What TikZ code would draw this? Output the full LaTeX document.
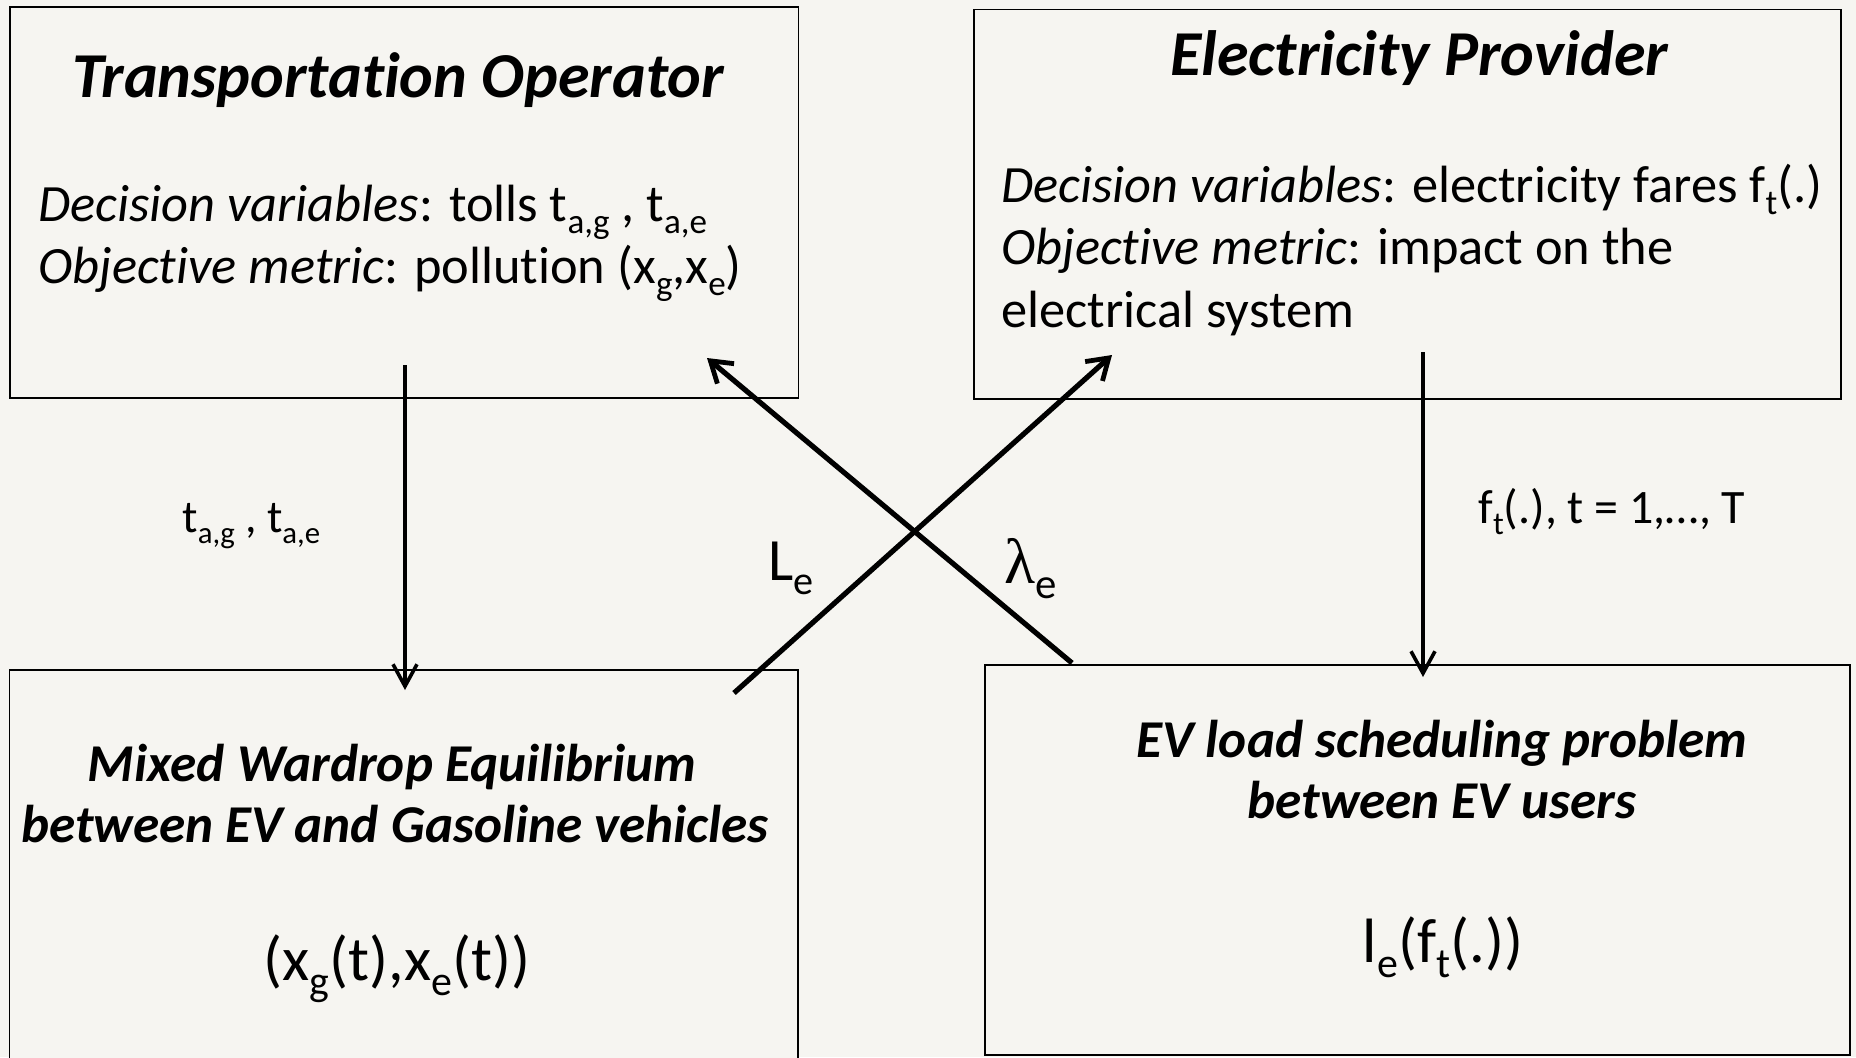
\documentclass[tikz,border=0pt]{standalone}
\usepackage{fontspec}
\setmainfont{Carlito}[RawFeature={-liga;-clig;-dlig}]
\newfontfamily\grk{Liberation Serif}
\usetikzlibrary{arrows.meta}
\definecolor{bg}{HTML}{F6F5F1}
\newcommand\sbs[1]{\raisebox{-0.24em}{\scalebox{0.67}{#1}}}
\begin{document}
\begin{tikzpicture}[x=0.5pt,y=-0.5pt,
  box/.style={draw=black, line width=0.75pt, fill=bg, inner sep=0pt},
  vtip/.style={-{Straight Barb[length=11pt,width=12pt,line width=1.8pt]}},
  varr/.style={line width=1.7pt, vtip},
  darr/.style={line width=2.6pt, -{Straight Barb[length=10pt,width=13pt,line width=2.4pt]}},
  ttl/.style={anchor=base, inner sep=0pt, font=\fontsize{32}{38}\selectfont\bfseries\itshape},
  btl/.style={anchor=base, inner sep=0pt, font=\fontsize{26.6}{32}\selectfont\bfseries\itshape},
  body/.style={anchor=base west, inner sep=0pt, font=\fontsize{26.2}{31}\selectfont},
  lbl/.style={anchor=base west, inner sep=0pt, font=\fontsize{23}{28}\selectfont},
  frm/.style={anchor=base, inner sep=0pt, font=\fontsize{31.3}{37}\selectfont},
  big/.style={anchor=base west, inner sep=0pt, font=\fontsize{30}{36}\selectfont}]

\fill[bg] (0,0) rectangle (1856,1057);
\useasboundingbox (0,0) rectangle (1856,1057);

% boxes
\node[box, minimum width=394.25pt, minimum height=195.5pt] (to) at (404,202.5) {};
\node[box, minimum width=433.5pt, minimum height=194.75pt] (ep) at (1407.5,204.25) {};
\node[box, minimum width=394.25pt, minimum height=196pt] (mw) at (403.75,866) {};
\node[box, minimum width=432.5pt, minimum height=195pt] (ev) at (1417.5,860) {};

% top-left text
\node[ttl] (tot) at (398,97) {Transportation Operator};
\node[body] (tod) at (38,221) {\textit{Decision variables}: tolls t\sbs{a,g} , t\sbs{a,e}};
\node[body] (too) at (38,283) {\textit{Objective metric}: pollution (x\sbs{g},x\sbs{e})};

% top-right text
\node[ttl] (ept) at (1419,75) {Electricity Provider};
\node[body] (epd) at (1001,202) {\textit{Decision variables}: electricity fares f\sbs{t}(.)};
\node[body] (epo) at (1001,264) {\textit{Objective metric}: impact on the};
\node[body] (epe) at (1001,327) {electrical system};

% bottom-left text
\node[btl] (mw1) at (392,781) {Mixed Wardrop Equilibrium};
\node[btl] (mw2) at (395,842) {between EV and Gasoline vehicles};
\node[frm] (mwf) at (397,980) {(x\sbs{g}(t),x\sbs{e}(t))};

% bottom-right text
\node[btl] (ev1) at (1442,757) {EV load scheduling problem};
\node[btl] (ev2) at (1442,818) {between EV users};
\node[frm] (evf) at (1443,962) {l\sbs{e}(f\sbs{t}(.))};

% arrows
\coordinate (a1s) at (405,365);
\coordinate (a1e) at (405,690);
\coordinate (a2s) at (1423,352);
\coordinate (a2e) at (1423,677);
\coordinate (a3s) at (734,693);
\coordinate (a3e) at (1112,355);
\coordinate (a4s) at (1072,663);
\coordinate (a4e) at (707,358);
\draw[varr] (a1s) -- (a1e);
\draw[varr] (a2s) -- (a2e);
\draw[darr] (a3s) -- (a3e);
\draw[darr] (a4s) -- (a4e);

% labels
\node[lbl] (l1) at (182,532) {t\sbs{a,g} , t\sbs{a,e}};
\node[lbl, font=\fontsize{24}{29}\selectfont] (l2) at (1478,523) {f\sbs{t}(.), t = 1,…, T};
\node[big] (le) at (768,580) {L\sbs{e}};
\node[big, font=\fontsize{32}{38}\selectfont] (la) at (1004,583) {{\grk λ}\sbs{e}};
\end{tikzpicture}
\end{document}
